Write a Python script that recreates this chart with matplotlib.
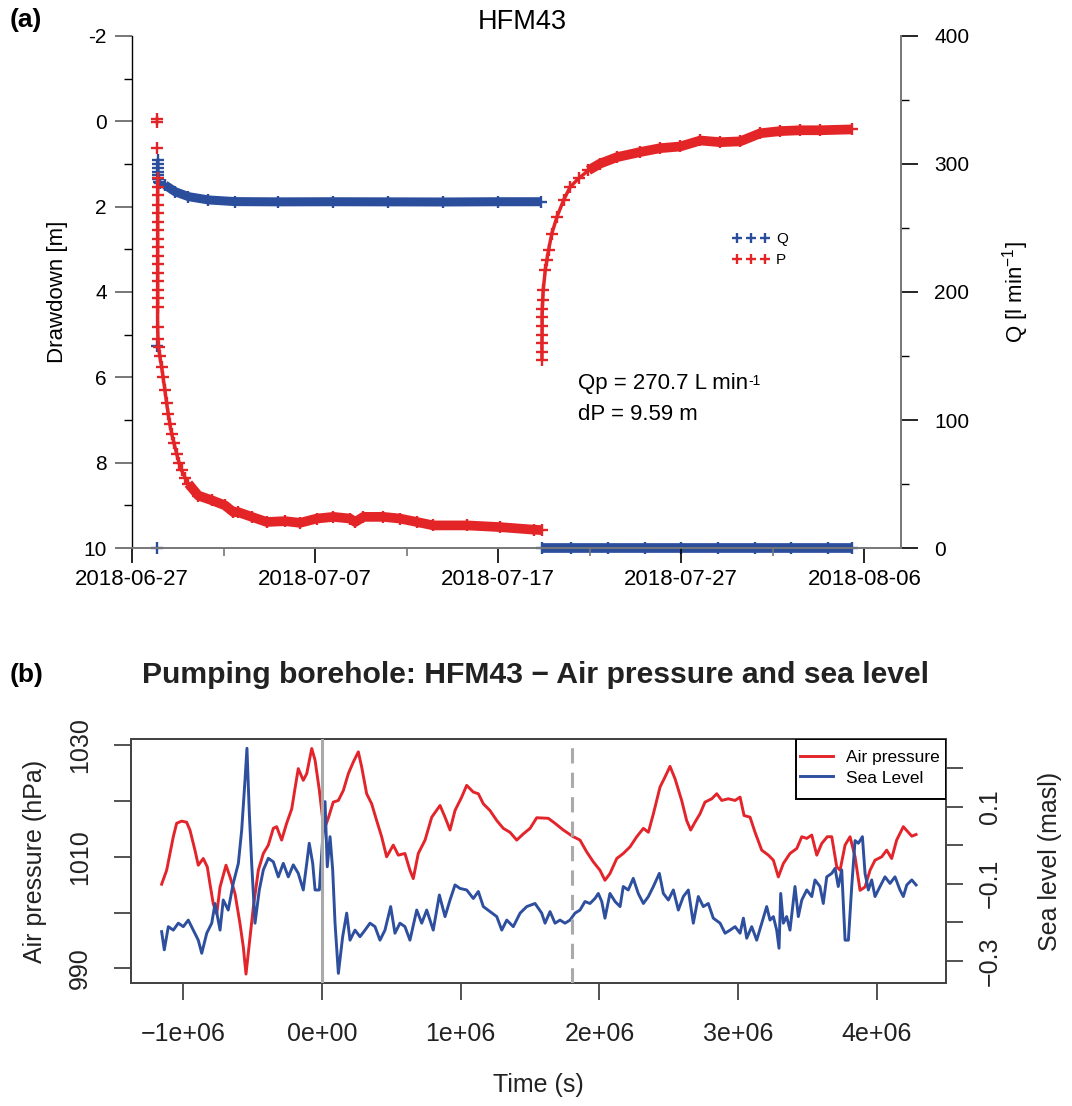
import numpy as np
import matplotlib
matplotlib.use("Agg")
import matplotlib.pyplot as plt
import matplotlib.dates as mdates
from matplotlib.patches import Rectangle

plt.rcParams['font.family'] = ['Liberation Sans', 'DejaVu Sans']
plt.rcParams['mathtext.fontset'] = 'custom'
plt.rcParams['mathtext.rm'] = 'Liberation Sans'
plt.rcParams['mathtext.it'] = 'Liberation Sans:italic'
plt.rcParams['mathtext.bf'] = 'Liberation Sans:bold'
plt.rcParams['axes.unicode_minus'] = False

RED = "#e42528"
BLUE = "#2b4e9c"

# ---------------- (a) pumping test HFM43, time in days after 2018-06-27 00:00
start_date = np.datetime64("2018-06-27T00:00")
date_ticks = ["2018-06-27", "2018-07-07", "2018-07-17", "2018-07-27", "2018-08-06"]
minor_date_ticks = ["2018-07-02", "2018-07-12", "2018-07-22", "2018-08-01"]

# drawdown during pumping [m]
p_pump_days = [1.39, 1.39, 1.39, 1.40, 1.40, 1.40, 1.40, 1.40, 1.40, 1.40, 1.40, 1.40,
               1.40, 1.40, 1.40, 1.40, 1.40, 1.40, 1.40, 1.40, 1.42, 1.45, 1.52, 1.62,
               1.70, 1.80, 1.89, 1.98, 2.07, 2.17, 2.30, 2.44, 2.57, 2.71, 2.90, 3.08,
               3.62, 4.35, 5.08, 5.54, 5.81, 6.54, 7.36, 8.36, 9.18, 10.09, 11.00, 11.91,
               12.19, 12.64, 13.73, 14.64, 15.56, 16.46, 18.29, 20.11, 21.93, 22.40]
p_pump_dd = [-0.06, 0.02, 0.63, 1.34, 1.54, 1.73, 1.97, 2.16, 2.35, 2.55, 2.75, 2.95,
             3.15, 3.35, 3.55, 3.75, 3.95, 4.15, 4.35, 4.82, 5.10, 5.30, 5.50, 5.76,
             6.00, 6.30, 6.60, 6.85, 7.10, 7.32, 7.55, 7.79, 8.00, 8.18, 8.35, 8.49,
             8.77, 8.88, 9.00, 9.16, 9.16, 9.27, 9.39, 9.37, 9.41, 9.31, 9.27, 9.31,
             9.39, 9.27, 9.27, 9.31, 9.39, 9.47, 9.47, 9.51, 9.57, 9.58]

# drawdown during recovery [m]
p_rec_days = [22.39, 22.39, 22.39, 22.40, 22.40, 22.40, 22.41, 22.43, 22.46, 22.57,
              22.66, 22.75, 22.93, 23.21, 23.57, 23.93, 24.39, 24.93, 25.57, 26.49,
              27.76, 28.85, 29.95, 31.04, 32.13, 33.22, 34.32, 35.41, 36.50, 37.60, 39.30]
p_rec_dd = [5.60, 5.40, 5.20, 5.00, 4.80, 4.59, 4.40, 4.18, 3.96, 3.49,
            3.25, 3.02, 2.63, 2.24, 1.85, 1.54, 1.34, 1.15, 0.99, 0.84,
            0.72, 0.63, 0.59, 0.45, 0.49, 0.47, 0.28, 0.23, 0.21, 0.21, 0.19]

# pumping rate [l/min]
q_pump_days = [1.37, 1.38, 1.40, 1.40, 1.40, 1.40, 1.41, 1.43, 1.47, 1.55, 1.80, 2.35,
               3.08, 4.17, 5.63, 8.00, 11.00, 14.00, 17.00, 20.00, 22.35]
q_pump = [0.0, 158.0, 303.0, 300.0, 297.0, 294.0, 291.0, 288.0, 286.0, 285.0, 283.6, 278.4,
          274.5, 271.9, 270.6, 270.4, 270.5, 270.4, 270.3, 270.5, 270.5]
q_rec_days = [22.40, 24.0, 26.0, 28.0, 30.0, 32.0, 34.0, 36.0, 38.0, 39.30]
q_rec = [0.0, 0.0, 0.0, 0.0, 0.0, 0.0, 0.0, 0.0, 0.0, 0.0]

# ---------------- (b) air pressure and sea level, time in 1e6 s
air_t = [-1.156, -1.120, -1.072, -1.048, -1.012, -0.976, -0.952, -0.916, -0.892, -0.856,
         -0.827, -0.808, -0.784, -0.759, -0.735, -0.692, -0.663, -0.627, -0.591, -0.567,
         -0.548, -0.519, -0.495, -0.459, -0.423, -0.387, -0.351, -0.327, -0.291, -0.255,
         -0.218, -0.195, -0.171, -0.135, -0.110, -0.074, -0.050, -0.019, 0.014, 0.045,
         0.081, 0.118, 0.154, 0.190, 0.226, 0.262, 0.286, 0.322, 0.358, 0.394,
         0.430, 0.466, 0.514, 0.550, 0.598, 0.634, 0.658, 0.694, 0.743, 0.791,
         0.851, 0.887, 0.923, 0.959, 1.007, 1.043, 1.091, 1.127, 1.163, 1.211,
         1.260, 1.307, 1.355, 1.404, 1.451, 1.500, 1.548, 1.632, 1.680, 1.740,
         1.805, 1.860, 1.908, 1.956, 2.004, 2.040, 2.076, 2.125, 2.172, 2.221,
         2.269, 2.317, 2.353, 2.389, 2.437, 2.473, 2.509, 2.545, 2.593, 2.629,
         2.658, 2.689, 2.725, 2.761, 2.810, 2.846, 2.882, 2.929, 2.978, 3.014,
         3.043, 3.086, 3.122, 3.170, 3.218, 3.254, 3.290, 3.326, 3.374, 3.423,
         3.459, 3.495, 3.531, 3.567, 3.603, 3.643, 3.675, 3.711, 3.735, 3.771,
         3.807, 3.843, 3.879, 3.915, 3.951, 3.987, 4.035, 4.071, 4.107, 4.143,
         4.191, 4.227, 4.252, 4.283]
air_hpa = [1005.1, 1007.6, 1013.6, 1016.0, 1016.4, 1016.2, 1014.8, 1011.2, 1008.5, 1009.7,
           1008.2, 1005.2, 1001.6, 999.8, 1004.6, 1008.5, 1006.4, 1003.4, 998.0, 993.8,
           989.0, 995.6, 1001.0, 1007.6, 1010.6, 1012.1, 1015.1, 1015.4, 1013.0, 1016.0,
           1018.6, 1022.2, 1025.8, 1023.7, 1024.9, 1029.4, 1027.3, 1021.9, 1014.8, 1016.9,
           1019.8, 1020.1, 1021.9, 1024.9, 1027.0, 1028.8, 1026.1, 1021.3, 1019.5, 1016.5,
           1013.6, 1010.0, 1012.1, 1010.3, 1010.6, 1007.6, 1006.1, 1010.6, 1013.0, 1017.1,
           1019.2, 1017.1, 1014.8, 1018.3, 1020.7, 1022.8, 1021.6, 1021.3, 1019.5, 1018.3,
           1016.5, 1015.1, 1014.4, 1013.0, 1014.1, 1015.1, 1017.0, 1016.9, 1016.0, 1014.8,
           1013.7, 1013.0, 1010.9, 1009.1, 1007.6, 1005.8, 1007.0, 1009.7, 1010.6, 1011.8,
           1013.6, 1015.1, 1014.4, 1017.7, 1022.5, 1024.3, 1026.2, 1024.0, 1020.1, 1016.5,
           1014.8, 1016.2, 1017.7, 1019.8, 1020.4, 1021.3, 1020.1, 1020.4, 1020.1, 1020.7,
           1017.4, 1017.1, 1014.4, 1011.2, 1010.3, 1009.4, 1006.4, 1008.8, 1010.6, 1011.5,
           1013.6, 1013.3, 1013.9, 1010.3, 1012.4, 1013.6, 1013.6, 1008.2, 1007.6, 1012.1,
           1013.6, 1010.0, 1004.0, 1004.6, 1007.6, 1009.4, 1010.0, 1011.2, 1009.7, 1013.0,
           1015.4, 1014.4, 1013.7, 1014.0]

sea_t = [-1.156, -1.137, -1.108, -1.072, -1.036, -1.000, -0.964, -0.928, -0.892, -0.867,
         -0.831, -0.795, -0.771, -0.735, -0.712, -0.676, -0.640, -0.603, -0.579, -0.555,
         -0.541, -0.524, -0.507, -0.483, -0.452, -0.423, -0.387, -0.351, -0.315, -0.279,
         -0.243, -0.207, -0.171, -0.135, -0.110, -0.092, -0.067, -0.050, -0.019, 0.022,
         0.038, 0.058, 0.077, 0.094, 0.118, 0.149, 0.178, 0.202, 0.238, 0.274,
         0.310, 0.346, 0.382, 0.418, 0.454, 0.495, 0.526, 0.562, 0.598, 0.634,
         0.683, 0.719, 0.755, 0.802, 0.846, 0.887, 0.923, 0.959, 0.995, 1.043,
         1.091, 1.127, 1.163, 1.211, 1.260, 1.296, 1.332, 1.379, 1.428, 1.476,
         1.536, 1.584, 1.608, 1.644, 1.680, 1.716, 1.752, 1.788, 1.824, 1.860,
         1.896, 1.932, 1.968, 1.992, 2.017, 2.040, 2.076, 2.113, 2.149, 2.172,
         2.208, 2.244, 2.280, 2.317, 2.353, 2.389, 2.432, 2.461, 2.497, 2.533,
         2.569, 2.605, 2.641, 2.677, 2.713, 2.749, 2.785, 2.821, 2.870, 2.906,
         2.942, 2.978, 3.014, 3.038, 3.062, 3.098, 3.134, 3.170, 3.206, 3.230,
         3.254, 3.278, 3.295, 3.307, 3.326, 3.350, 3.374, 3.410, 3.434, 3.459,
         3.495, 3.531, 3.554, 3.590, 3.614, 3.639, 3.675, 3.699, 3.722, 3.747,
         3.771, 3.795, 3.819, 3.843, 3.867, 3.896, 3.915, 3.939, 3.963, 3.987,
         4.023, 4.059, 4.095, 4.131, 4.167, 4.191, 4.216, 4.252, 4.283]
sea_masl = [-0.224, -0.271, -0.211, -0.220, -0.202, -0.211, -0.194, -0.220, -0.246, -0.280,
            -0.228, -0.202, -0.151, -0.220, -0.142, -0.168, -0.099, -0.047, 0.039, 0.169,
            0.251, 0.083, -0.047, -0.202, -0.116, -0.064, -0.034, -0.043, -0.082, -0.047,
            -0.082, -0.051, -0.073, -0.116, -0.047, 0.005, -0.047, -0.116, -0.116, 0.113,
            -0.056, 0.022, -0.064, -0.202, -0.332, -0.237, -0.176, -0.246, -0.220, -0.237,
            -0.220, -0.202, -0.211, -0.246, -0.220, -0.159, -0.228, -0.202, -0.211, -0.246,
            -0.168, -0.202, -0.168, -0.220, -0.129, -0.185, -0.142, -0.103, -0.112, -0.116,
            -0.138, -0.120, -0.159, -0.172, -0.185, -0.220, -0.194, -0.211, -0.176, -0.159,
            -0.151, -0.176, -0.202, -0.172, -0.202, -0.194, -0.202, -0.194, -0.176, -0.168,
            -0.146, -0.151, -0.138, -0.125, -0.146, -0.189, -0.125, -0.146, -0.159, -0.107,
            -0.116, -0.086, -0.125, -0.151, -0.133, -0.107, -0.073, -0.125, -0.142, -0.116,
            -0.168, -0.133, -0.116, -0.202, -0.133, -0.159, -0.151, -0.189, -0.202, -0.228,
            -0.220, -0.211, -0.228, -0.189, -0.241, -0.211, -0.246, -0.202, -0.159, -0.194,
            -0.185, -0.220, -0.267, -0.125, -0.202, -0.185, -0.220, -0.107, -0.185, -0.142,
            -0.116, -0.133, -0.090, -0.107, -0.151, -0.082, -0.073, -0.060, -0.107, -0.064,
            -0.246, -0.246, -0.107, 0.012, 0.005, 0.022, -0.073, -0.116, -0.090, -0.133,
            -0.107, -0.082, -0.099, -0.082, -0.116, -0.133, -0.103, -0.090, -0.103]

time_ticks = [-1e6, 0.0, 1e6, 2e6, 3e6, 4e6]
time_labels = ["\u22121e+06", "0e+00", "1e+06", "2e+06", "3e+06", "4e+06"]
air_ticks = [990, 1000, 1010, 1020, 1030]
air_labels = ["990", "", "1010", "", "1030"]
sea_ticks = [0.2, 0.1, 0.0, -0.1, -0.2, -0.3]
sea_labels = ["", "0.1", "", "\u22120.1", "", "\u22120.3"]
pump_start_s = 0.0
pump_stop_s = 1.8e6


def to_dates(days):
    return start_date + (np.asarray(days) * 86400).astype("timedelta64[s]")


fig = plt.figure(figsize=(10.72, 11.06), dpi=100)

# ================= panel (a)
ax_p = fig.add_axes([0.1231, 0.5045, 0.7174, 0.4630])
ax_q = ax_p.twinx()
ax_p.set_zorder(2)
ax_q.set_zorder(1)
ax_p.patch.set_visible(False)

thin = dict(lw=2.5, solid_capstyle="butt")
band = dict(lw=7, solid_capstyle="butt")
marks = dict(ls="none", marker="+", ms=8.5, mew=1.7, clip_on=False)

# Q: thin line through the start-up, thick band where the rate is steady
q_pd, q_pv = np.array(q_pump_days), np.array(q_pump)
ax_q.plot(to_dates(q_pd[2:]), q_pv[2:], color=BLUE, **thin)
steady = q_pd >= 1.8
ax_q.plot(to_dates(q_pd[steady]), q_pv[steady], color=BLUE, lw=6.5, solid_capstyle="butt")
q_handle, = ax_q.plot(to_dates(q_pd), q_pv, color=BLUE, **marks)
ax_q.plot(to_dates(q_rec_days), q_rec, color=BLUE, clip_on=False, **band)
ax_q.plot(to_dates(q_rec_days), q_rec, color=BLUE, **marks)

# P: same treatment
p_pd, p_pv = np.array(p_pump_days), np.array(p_pump_dd)
ax_p.plot(to_dates(p_pd[3:]), p_pv[3:], color=RED, **thin)
flat = p_pd >= 3.0
ax_p.plot(to_dates(p_pd[flat]), p_pv[flat], color=RED, **band)
p_handle, = ax_p.plot(to_dates(p_pd), p_pv, color=RED, **marks)
r_pd, r_pv = np.array(p_rec_days), np.array(p_rec_dd)
ax_p.plot(to_dates(r_pd), r_pv, color=RED, **thin)
late = r_pd >= 24.9
ax_p.plot(to_dates(r_pd[late]), r_pv[late], color=RED, **band)
ax_p.plot(to_dates(r_pd), r_pv, color=RED, **marks)

x0 = mdates.date2num(start_date)
ax_p.set_xlim(x0, x0 + 42.0)
ax_p.set_ylim(10, -2)
ax_q.set_ylim(0, 400)

ax_p.set_xticks(mdates.date2num(np.array(date_ticks, dtype="datetime64[D]")))
ax_p.set_xticklabels(date_ticks)
ax_p.set_xticks(mdates.date2num(np.array(minor_date_ticks, dtype="datetime64[D]")), minor=True)
ax_p.set_yticks([-2, 0, 2, 4, 6, 8, 10])
ax_p.set_yticks([-1, 1, 3, 5, 7, 9], minor=True)
ax_q.set_yticks([0, 100, 200, 300, 400])
ax_q.set_yticks([50, 150, 250, 350], minor=True)

ax_p.tick_params(axis="x", which="major", length=11, width=1.2, color="black", labelsize=16, pad=4)
ax_p.tick_params(axis="x", which="minor", length=6, width=1.2, color="#777777")
ax_p.tick_params(axis="y", which="major", length=12, width=1.4, color="#777777", labelsize=15, pad=6)
ax_p.tick_params(axis="y", which="minor", length=6, width=1.0, color="black")
ax_q.tick_params(axis="y", which="major", length=12, width=1.2, color="black", labelsize=15, pad=12)
ax_q.tick_params(axis="y", which="minor", length=6, width=1.0, color="black")

for s in ["top", "right"]:
    ax_p.spines[s].set_visible(False)
for s in ["top", "left", "bottom"]:
    ax_q.spines[s].set_visible(False)
ax_p.spines["bottom"].set_color("#777777")
ax_p.spines["bottom"].set_linewidth(1.4)
ax_p.spines["left"].set_linewidth(1.0)
ax_q.spines["right"].set_color("#777777")
ax_q.spines["right"].set_linewidth(1.4)

ax_p.set_ylabel("Drawdown [m]", fontsize=16)
ax_p.yaxis.set_label_coords(-0.083, 0.5)
ax_q.set_ylabel("Q [l min$^{-1}$]", fontsize=16)
ax_q.yaxis.set_label_coords(1.129, 0.5)

ax_p.legend([q_handle, p_handle], ["Q", "P"], loc="upper left",
            bbox_to_anchor=(0.781, 0.617), frameon=False, numpoints=3,
            fontsize=11, handlelength=2.43, handletextpad=0.42,
            labelspacing=0.45, borderpad=0, borderaxespad=0, markerscale=0.85)

qp_txt = ax_p.text(0.580, 0.322, "Qp = 270.7 L min", transform=ax_p.transAxes,
                   fontsize=16, va="center", ha="left")
ax_p.annotate("-1", xy=(1.0, 0.93), xycoords=qp_txt, fontsize=10, va="top", ha="left")
ax_p.text(0.580, 0.260, "dP = 9.59 m", transform=ax_p.transAxes,
          fontsize=16, va="center", ha="left")

fig.text(522 / 1072, 1 - 22 / 1106, "HFM43", ha="center", va="center", fontsize=19.5)
fig.text(10 / 1072, 1 - 20 / 1106, "(a)", ha="left", va="center", fontsize=19, fontweight="bold")

# ================= panel (b)
ax_air = fig.add_axes([0.1222, 0.1112, 0.7603, 0.2206])
ax_sea = ax_air.twinx()

air_line, = ax_air.plot(np.array(air_t) * 1e6, air_hpa, color="#e3242b", lw=2.1, label="Air pressure")
sea_line, = ax_sea.plot(np.array(sea_t) * 1e6, sea_masl, color="#2d4f9e", lw=2.1, label="Sea Level")
ax_sea.axvline(pump_start_s, color="#aaaaaa", lw=2.2, zorder=3)
ax_sea.axvline(pump_stop_s, color="#aaaaaa", lw=2.2, ls=(0, (5, 3)), zorder=3)

ax_air.set_xlim(-1.377e6, 4.499e6)
ax_air.set_ylim(987.4, 1031.1)
ax_sea.set_ylim(-0.357, 0.275)

ax_air.set_xticks(time_ticks)
ax_air.set_xticklabels(time_labels)
ax_air.set_yticks(air_ticks)
ax_air.set_yticklabels(air_labels, rotation=90, va="center")
ax_sea.set_yticks(sea_ticks)
ax_sea.set_yticklabels(sea_labels, rotation=90, va="center")

ax_air.tick_params(axis="x", length=12, width=1.3, color="#444444", labelsize=18, pad=16, labelcolor="#222222")
ax_air.tick_params(axis="y", length=12, width=1.3, color="#444444", labelsize=18, pad=16, labelcolor="#222222")
ax_sea.tick_params(axis="y", length=12, width=1.3, color="#444444", labelsize=18, pad=11, labelcolor="#222222")
for ax in (ax_air, ax_sea):
    for s in ax.spines.values():
        s.set_color("#444444")
        s.set_linewidth(1.4)

ax_air.set_xlabel("Time (s)", fontsize=18, color="#222222")
ax_air.xaxis.set_label_coords(0.5, -0.369)
ax_air.set_ylabel("Air pressure (hPa)", fontsize=18, color="#222222")
ax_air.yaxis.set_label_coords(-0.103, 0.5)
ax_sea.set_ylabel("Sea level (masl)", fontsize=18, color="#222222")
ax_sea.yaxis.set_label_coords(1.113, 0.5)

# R-style legend: taller box than the entries need
ax_sea.add_patch(Rectangle((0.816, 0.754), 0.184, 0.246, transform=ax_sea.transAxes,
                           facecolor="white", edgecolor="black", lw=1.4, zorder=4))
leg = ax_sea.legend([air_line, sea_line], ["Air pressure", "Sea Level"], loc="upper left",
                    bbox_to_anchor=(0.821, 0.955), frameon=False, borderaxespad=0,
                    borderpad=0, fontsize=12.5, handlelength=1.9, handletextpad=0.75,
                    labelspacing=0.3)
leg.set_zorder(5)

fig.text(536 / 1072, 1 - 675 / 1106, "Pumping borehole: HFM43 \u2212 Air pressure and sea level",
         ha="center", va="center", fontsize=21.7, fontweight="bold", color="#222222")
fig.text(10 / 1072, 1 - 675 / 1106, "(b)", ha="left", va="center", fontsize=19, fontweight="bold")

fig.savefig("out.png", dpi=100)
